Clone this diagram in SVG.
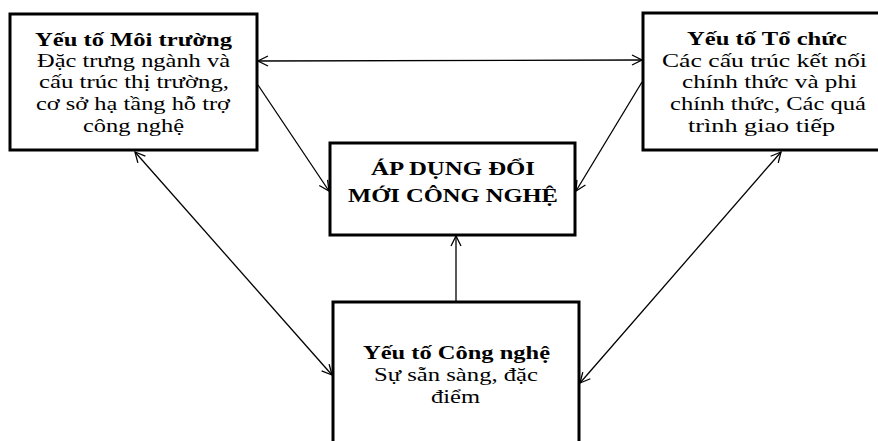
<svg xmlns="http://www.w3.org/2000/svg" width="878" height="441" viewBox="0 0 878 441">
<style>
.box{fill:#fff;stroke:#000;stroke-width:3}
.t{font-family:"Liberation Serif","Times New Roman",serif;font-size:19px;fill:#000;text-anchor:middle}
.b{font-weight:bold}
.c{fill:none;stroke:#000;stroke-width:1.3}
</style>
<defs>
<marker id="ah" markerUnits="userSpaceOnUse" markerWidth="12" markerHeight="12" refX="11" refY="6" orient="auto-start-reverse" viewBox="0 0 12 12">
<path d="M1,1 L11,6 L1,11" fill="none" stroke="#000" stroke-width="1.3"/>
</marker>
</defs>
<rect width="878" height="441" fill="#fff"/>
<g id="connectors">
<line class="c" x1="258" y1="61" x2="642" y2="60" marker-start="url(#ah)" marker-end="url(#ah)"/>
<line class="c" x1="258" y1="85" x2="329" y2="191" marker-end="url(#ah)"/>
<line class="c" x1="642" y1="82" x2="576" y2="191" marker-end="url(#ah)"/>
<line class="c" x1="135" y1="152" x2="332" y2="375" marker-start="url(#ah)" marker-end="url(#ah)"/>
<line class="c" x1="781" y1="152" x2="580" y2="383" marker-start="url(#ah)" marker-end="url(#ah)"/>
<line class="c" x1="456" y1="302" x2="456" y2="236" marker-end="url(#ah)"/>
</g>
<g id="env">
<rect class="box" x="10" y="14" width="247" height="136"/>
<text class="t b" x="133.5" y="46" textLength="197" lengthAdjust="spacingAndGlyphs">Yếu tố Môi trường</text>
<text class="t" x="133.5" y="67" textLength="193" lengthAdjust="spacingAndGlyphs">Đặc trưng ngành và</text>
<text class="t" x="134" y="88" textLength="190" lengthAdjust="spacingAndGlyphs">cấu trúc thị trường,</text>
<text class="t" x="133" y="110" textLength="194" lengthAdjust="spacingAndGlyphs">cơ sở hạ tầng hỗ trợ</text>
<text class="t" x="133.5" y="132" textLength="101" lengthAdjust="spacingAndGlyphs">công nghệ</text>
</g>
<g id="org">
<rect class="box" x="643" y="13" width="246" height="137"/>
<text class="t b" x="767" y="45" textLength="160" lengthAdjust="spacingAndGlyphs">Yếu tố Tổ chức</text>
<text class="t" x="764.5" y="67" textLength="205" lengthAdjust="spacingAndGlyphs">Các cấu trúc kết nối</text>
<text class="t" x="769.5" y="88" textLength="175" lengthAdjust="spacingAndGlyphs">chính thức và phi</text>
<text class="t" x="768" y="110" textLength="196" lengthAdjust="spacingAndGlyphs">chính thức, Các quá</text>
<text class="t" x="761.5" y="132" textLength="147" lengthAdjust="spacingAndGlyphs">trình giao tiếp</text>
</g>
<g id="adopt">
<rect class="box" x="330" y="143" width="245" height="92"/>
<text class="t b" x="453" y="175" textLength="164" lengthAdjust="spacingAndGlyphs">ÁP DỤNG ĐỔI</text>
<text class="t b" x="453" y="202" textLength="210" lengthAdjust="spacingAndGlyphs">MỚI CÔNG NGHỆ</text>
</g>
<g id="tech">
<rect class="box" x="333" y="302" width="246" height="150"/>
<text class="t b" x="456.5" y="359" textLength="187" lengthAdjust="spacingAndGlyphs">Yếu tố Công nghệ</text>
<text class="t" x="456" y="381" textLength="164" lengthAdjust="spacingAndGlyphs">Sự sẵn sàng, đặc</text>
<text class="t" x="455.5" y="403" textLength="49" lengthAdjust="spacingAndGlyphs">điểm</text>
</g>
</svg>
